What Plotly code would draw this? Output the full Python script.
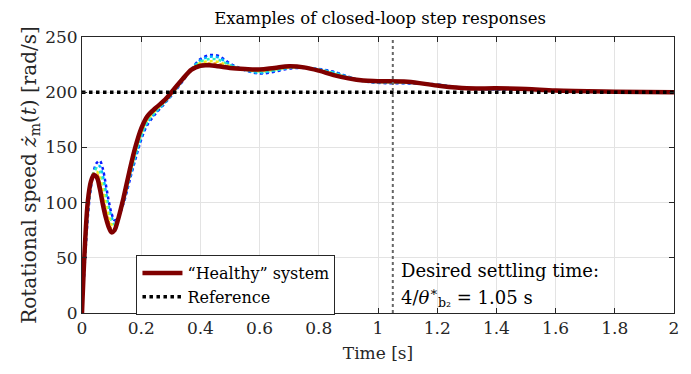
import plotly.graph_objects as go

# Time grid [s]
t = [0, .01, .02, .03, .04, .05, .06, .07, .08, .09, .10, .11, .12, .14, .16, .18, .20, .22,
     .25, .28, .31, .34, .37, .40, .43, .46, .50, .55, .60, .65, .70, .75, .80, .85, .90, .95,
     1.00, 1.10, 1.20, 1.30, 1.40, 1.50, 1.60, 1.80, 2.00]

healthy = [0, 62, 102, 119, 125, 123, 113, 99, 87, 78, 73, 75, 83, 104, 128, 150, 167, 178,
           186, 193, 202.5, 212, 220.5, 224, 224.3, 223.5, 222, 221, 220.5, 222, 223.5, 222.5,
           219.5, 215.5, 212.5, 210.5, 210, 209.5, 206, 203.5, 203.5, 203, 201.5, 200.5, 200]

fault_orange = [0, 59, 99, 118, 126, 126, 118, 105, 93, 83, 76, 77, 84, 103, 126, 148, 165, 176,
                185, 192.5, 202, 211.5, 220.5, 225, 226, 225.5, 223, 221, 220, 221.5, 223, 222.5,
                220, 216, 213, 210.5, 209.7, 209.2, 206.2, 203.5, 203.3, 202.9, 201.5, 200.5, 200]

fault_yellow = [0, 56, 96, 117, 127, 128, 123, 112, 99, 88, 80, 79, 84, 102, 124, 146, 163, 175,
                184, 192, 201, 211, 220.5, 226.5, 228, 227.5, 223.5, 220.5, 219, 220.5, 222.5, 222.3,
                220, 216.5, 213, 210.3, 209.4, 208.9, 206.4, 203.5, 203.1, 202.8, 201.5, 200.5, 200]

fault_green = [0, 54, 94, 116, 127, 131, 128, 118, 105, 92, 83, 80, 85, 101, 123, 143, 161, 173,
               183, 191, 200.5, 211, 221, 227.5, 230, 229.5, 224.5, 220.5, 218.5, 220, 222.3, 222.2,
               220.5, 217.5, 213.5, 210.2, 209.1, 208.6, 206.6, 203.5, 202.9, 202.7, 201.5, 200.5, 200]

fault_cyan = [0, 51, 91, 115, 128, 133, 133, 125, 111, 97, 87, 82, 85, 100, 121, 141, 159, 172,
              182, 190.5, 200, 210.5, 221, 229, 232, 231.5, 225, 220, 217.5, 219.5, 222, 222.1,
              220.5, 218, 213.8, 210.1, 208.8, 208.3, 206.8, 203.5, 202.7, 202.6, 201.5, 200.5, 200]

fault_blue = [0, 48, 88, 114, 129, 136, 138, 131, 117, 102, 90, 84, 86, 99, 119, 139, 157, 170,
              181, 190, 199.5, 210, 221, 230, 233.5, 233, 226, 220, 217, 218.5, 221.5, 222,
              221, 218.5, 214, 210, 208.5, 208, 207, 203.5, 202.5, 202.5, 201.5, 200.5, 200]

ref_t = [0, 2]
ref_y = [200, 200]
settle_t = 1.05
y_range = [0, 250]

FONT = "DejaVu Serif"

fig = go.Figure()

faulty = [(fault_blue, "#0a1aff"), (fault_cyan, "#00b4ff"), (fault_green, "#30f0c0"),
          (fault_yellow, "#f0f020"), (fault_orange, "#ff8c00")]
for ys, col in faulty:
    fig.add_trace(go.Scatter(x=t, y=ys, mode="lines", showlegend=False,
                             line=dict(color=col, width=2.5, dash="dot", shape="spline")))

fig.add_trace(go.Scatter(x=t, y=healthy, mode="lines", name="“Healthy” system",
                         line=dict(color="#800000", width=4.5, shape="spline")))
fig.add_trace(go.Scatter(x=ref_t, y=ref_y, mode="lines", name="Reference",
                         line=dict(color="black", width=3.5, dash="dot")))
fig.add_trace(go.Scatter(x=[settle_t, settle_t], y=y_range, mode="lines", showlegend=False,
                         line=dict(color="#666666", width=2, dash="dot")))

fig.add_annotation(x=1.07, y=0.155, xref="x", yref="paper", xanchor="left", yanchor="middle",
                   text="Desired settling time:", showarrow=False,
                   font=dict(family=FONT, size=18, color="black"))
fig.add_annotation(x=1.07, y=0.058, xref="x", yref="paper", xanchor="left", yanchor="middle",
                   text="4/<i>θ</i><sup>∗</sup><sub>b₂</sub> = 1.05 s", showarrow=False,
                   font=dict(family=FONT, size=18, color="black"))

axis_common = dict(showgrid=True, gridcolor="#e3e3e3", gridwidth=1, zeroline=False,
                   showline=True, linecolor="#262626", linewidth=1, mirror="allticks",
                   ticks="inside", ticklen=5, tickcolor="#262626",
                   tickfont=dict(family=FONT, size=17, color="#262626"))

fig.update_layout(
    width=691, height=374,
    margin=dict(l=82, r=13, t=37, b=61),
    paper_bgcolor="white", plot_bgcolor="white",
    title=dict(text="Examples of closed-loop step responses", x=0.55, xanchor="center",
               y=0.95, yanchor="middle", font=dict(family=FONT, size=16.5, color="black")),
    xaxis=dict(range=[0, 2], dtick=0.2, tick0=0,
               title=dict(text="Time [s]", font=dict(family=FONT, size=17, color="#262626"), standoff=9),
               **axis_common),
    yaxis=dict(range=y_range, dtick=50, tick0=0,
               title=dict(text="Rotational speed <i>ż</i><sub>m</sub>(<i>t</i>) [rad/s]",
                          font=dict(family=FONT, size=20, color="#262626"), standoff=3),
               **axis_common),
    legend=dict(x=0.092, y=0.21, xanchor="left", yanchor="top", bgcolor="white",
                bordercolor="#262626", borderwidth=1,
                font=dict(family=FONT, size=16, color="black"),
                tracegroupgap=0, itemwidth=40),
)

fig.write_html("out.html")
